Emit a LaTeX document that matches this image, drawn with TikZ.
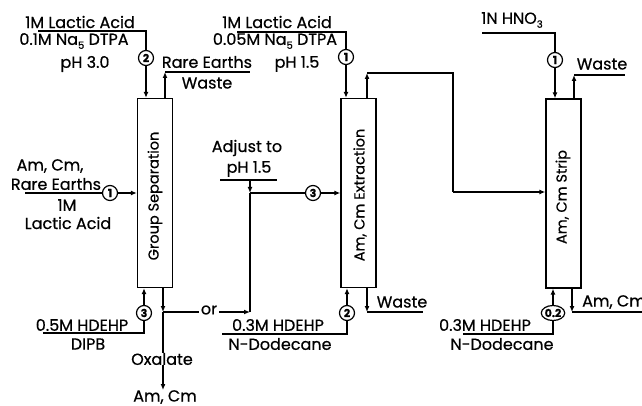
\documentclass[tikz,border=0pt]{standalone}
\usepackage{fontspec}
\setmainfont{Poppins}[FakeBold=0.6]
\usetikzlibrary{arrows.meta,shapes.geometric}
\newcommand\subs[1]{\raisebox{-0.45ex}{\fontsize{10}{10}\selectfont #1}}
\tikzset{
  lbl/.style={inner sep=0pt, font=\fontsize{16}{16}\selectfont},
  boxtxt/.style={inner sep=0pt, rotate=90, font=\fontsize{14.5}{14.5}\selectfont},
  col/.style={draw, line width=1.3pt, minimum width=35pt, minimum height=189pt, inner sep=0pt},
  num/.style={draw, circle, line width=1.2pt, minimum size=15pt, inner sep=0pt, font=\fontsize{11}{11}\selectfont\bfseries},
  ln/.style={line width=1.2pt},
  arr/.style={line width=1.2pt, -{Latex[length=6pt,width=5pt]}},
}
\begin{document}
\begin{tikzpicture}[x=1pt,y=-1pt]
\useasboundingbox (0,0) rectangle (642,406);
% columns
\node[col] (gs) at (155,193) {};
\node[col] (ex) at (358.5,193) {};
\node[col] (st) at (563.5,193.5) {};
\node[boxtxt] (gst) at (155,196) {Group Separation};
\node[boxtxt] (ext) at (360,195) {Am, Cm Extraction};
\node[boxtxt] (stt) at (563,197) {Am, Cm Strip};
% circles
\node[num] (g2) at (146,58) {2};
\node[num] (g1) at (110,193) {1};
\node[num] (g3) at (144,313) {3};
\node[num] (e1) at (346,57) {1};
\node[num] (e3) at (313,193) {3};
\node[num] (e2) at (347,313) {2};
\node[num] (s1) at (555,60) {1};
\node[num, ellipse, minimum width=22pt, minimum height=15pt] (s02) at (553,313) {0.2};
% texts column 1
\node[lbl] (t1) at (80,22) {1M Lactic Acid};
\node[lbl] (t2) at (74,41) {0.1M Na\subs{5} DTPA};
\node[lbl] (t3) at (85,64) {pH 3.0};
\node[lbl] (t4) at (207,62) {Rare Earths};
\node[lbl] (t5) at (207,83) {Waste};
\node[lbl] (t6) at (50,166) {Am, Cm,};
\node[lbl] (t7) at (56,184) {Rare Earths};
\node[lbl] (t8) at (67,205) {1M};
\node[lbl] (t9) at (68,223) {Lactic Acid};
\node[lbl] (t10) at (82,325) {0.5M HDEHP};
\node[lbl] (t11) at (88,344) {DIPB};
\node[lbl] (ox) at (162,359) {Oxalate};
\node[lbl] (amc) at (165,397) {Am, Cm};
\node[lbl, inner xsep=2pt] (or) at (209,310) {or};
% texts column 2
\node[lbl] (u1) at (277,22) {1M Lactic Acid};
\node[lbl] (u2) at (275,41) {0.05M Na\subs{5} DTPA};
\node[lbl] (u3) at (297,64) {pH 1.5};
\node[lbl] (u4) at (247,148) {Adjust to};
\node[lbl] (u5) at (249,169) {pH 1.5};
\node[lbl] (u6) at (278,325) {0.3M HDEHP};
\node[lbl] (u7) at (280,344) {N-Dodecane};
\node[lbl] (u8) at (402,302) {Waste};
% texts column 3
\node[lbl] (v1) at (512,20) {1N HNO\subs{3}};
\node[lbl] (v2) at (602,64) {Waste};
\node[lbl] (v3) at (485,325) {0.3M HDEHP};
\node[lbl] (v4) at (502,344) {N-Dodecane};
\node[lbl, anchor=west] (v5) at (582,302) {Am, Cm};
% coordinates
\coordinate (a1) at (38,31);
\coordinate (a2) at (250,72);
\coordinate (a3) at (25,193);
\coordinate (a4) at (43,333);
\coordinate (j1) at (163,312);
\coordinate (j2) at (250,312);
\coordinate (j3) at (250,193);
\coordinate (p1) at (220,180);
\coordinate (p2) at (277,180);
\coordinate (b1) at (237,32);
\coordinate (b2) at (453,73);
\coordinate (b3) at (222,334);
\coordinate (b4) at (423,312);
\coordinate (c1) at (482,33);
\coordinate (c2) at (625,75);
\coordinate (c3) at (463,334);
\coordinate (c4) at (642,312);
% column 1 connectors
\draw[ln] (a1) -- (a1 -| g2) -- (g2.north);
\draw[arr] (g2.south) -- (g2 |- gs.north);
\draw[arr] (gs.north -| 165,0) -- (165,72);
\draw[ln] (165,72) -- (a2);
\draw[ln] (a3) -- (g1.west);
\draw[arr] (g1.east) -- (g1 -| gs.west);
\draw[arr] (g3.north) -- (g3 |- gs.south);
\draw[ln] (g3.south) -- (g3 |- a4) -- (a4);
\draw[arr] (j1 |- gs.south) -- (j1);
\draw[ln] (j1) -- (ox.north -| j1);
\draw[arr] (ox.south -| j1) -- (amc.north -| j1);
\draw[ln] (j1) -- (or.west |- j1);
\draw[arr] (or.east |- j1) -- (j2);
\draw[ln] (j2) -- (j3);
% column 2 connectors
\draw[ln] (p1) -- (p2);
\draw[arr] (p1 -| j3) -- (j3);
\draw[ln] (j3) -- (e3.west);
\draw[arr] (e3.east) -- (e3 -| ex.west);
\draw[ln] (b1) -- (b1 -| e1) -- (e1.north);
\draw[arr] (e1.south) -- (e1 |- ex.north);
\draw[arr] (ex.north -| 367,0) -- (367,73);
\draw[ln] (367,73) -- (b2) -- (b2 |- 0,192);
\draw[arr] (b2 |- 0,192) -- (st.west |- 0,192);
\draw[arr] (e2.north) -- (e2 |- ex.south);
\draw[ln] (e2.south) -- (e2 |- b3) -- (b3);
\draw[arr] (ex.south -| 367,0) -- (367,312);
\draw[ln] (367,312) -- (b4);
% column 3 connectors
\draw[ln] (c1) -- (c1 -| s1) -- (s1.north);
\draw[arr] (s1.south) -- (s1 |- st.north);
\draw[arr] (st.north -| 574,0) -- (574,75);
\draw[ln] (574,75) -- (c2);
\draw[arr] (s02.north) -- (s02 |- st.south);
\draw[ln] (s02.south) -- (s02 |- c3) -- (c3);
\draw[arr] (st.south -| 572,0) -- (572,312);
\draw[ln] (572,312) -- (c4);
\end{tikzpicture}
\end{document}
